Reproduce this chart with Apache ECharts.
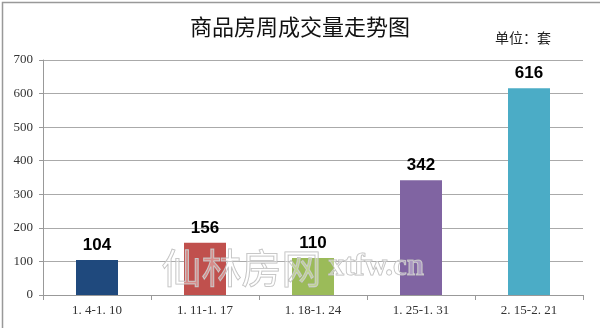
<!DOCTYPE html>
<html><head><meta charset="utf-8">
<script src="https://cdn.jsdelivr.net/npm/echarts@6/dist/echarts.min.js"></script>
<style>html,body{margin:0;padding:0;background:#fff}#c{width:600px;height:328px}</style>
</head><body><div id="c"></div>
<script>
const categories = ['1. 4-1. 10', '1. 11-1. 17', '1. 18-1. 24', '1. 25-1. 31', '2. 15-2. 21'];
const values = [104, 156, 110, 342, 616];
const barColors = ['#1F497D', '#C0504D', '#9BBB59', '#8064A2', '#4BACC6'];
const yTicks = [0, 100, 200, 300, 400, 500, 600, 700];

const chart = echarts.init(document.getElementById('c'));
chart.setOption({
  animation: false,
  title: {
    text: '商品房周成交量走势图', left: 'center', top: 11,
    textStyle: { fontFamily: 'Noto Sans CJK SC', fontSize: 22, fontWeight: 'normal', color: '#111' }
  },
  grid: { left: 43, right: 17, top: 60, bottom: 33 },
  xAxis: {
    type: 'category', data: categories,
    axisLine: { lineStyle: { color: '#999' } },
    axisTick: { show: true, length: 5, lineStyle: { color: '#999' } },
    axisLabel: { fontFamily: 'Liberation Serif', fontSize: 13, color: '#333', margin: 9 }
  },
  yAxis: {
    type: 'value', min: yTicks[0], max: yTicks[yTicks.length - 1], interval: 100,
    axisLine: { show: true, lineStyle: { color: '#999' } },
    axisTick: { show: true, length: 4, lineStyle: { color: '#999' } },
    splitLine: { lineStyle: { color: '#aaa' } },
    axisLabel: { fontFamily: 'Liberation Serif', fontSize: 13, color: '#333', margin: 10 }
  },
  series: [{
    type: 'bar', barWidth: 42,
    data: values.map((v, i) => ({ value: v, itemStyle: { color: barColors[i] } })),
    label: { show: true, position: 'top', distance: 6, fontFamily: 'Liberation Sans', fontWeight: 'bold', fontSize: 17, color: '#000' }
  }],
  graphic: [
    { type: 'rect', left: 0, top: 0, shape: { width: 599, height: 327 }, style: { fill: 'none', stroke: '#999', lineWidth: 1.5 }, silent: true },
    { type: 'text', left: 495, top: 31, style: { text: '单位：套', font: '14px "Noto Sans CJK SC"', fill: '#222' } },
    { type: 'text', left: 161, top: 247, z: 100, style: { text: '仙林房网', font: '40px "Noto Sans CJK SC"', fill: 'rgba(255,255,255,0.35)', stroke: '#bbb', lineWidth: 1 } },
    { type: 'text', left: 328, top: 251, z: 100, style: { text: 'xtfw.cn', font: 'bold 31px "Liberation Serif"', fill: 'rgba(255,255,255,0.35)', stroke: '#bbb', lineWidth: 1 } }
  ]
});
</script></body></html>
